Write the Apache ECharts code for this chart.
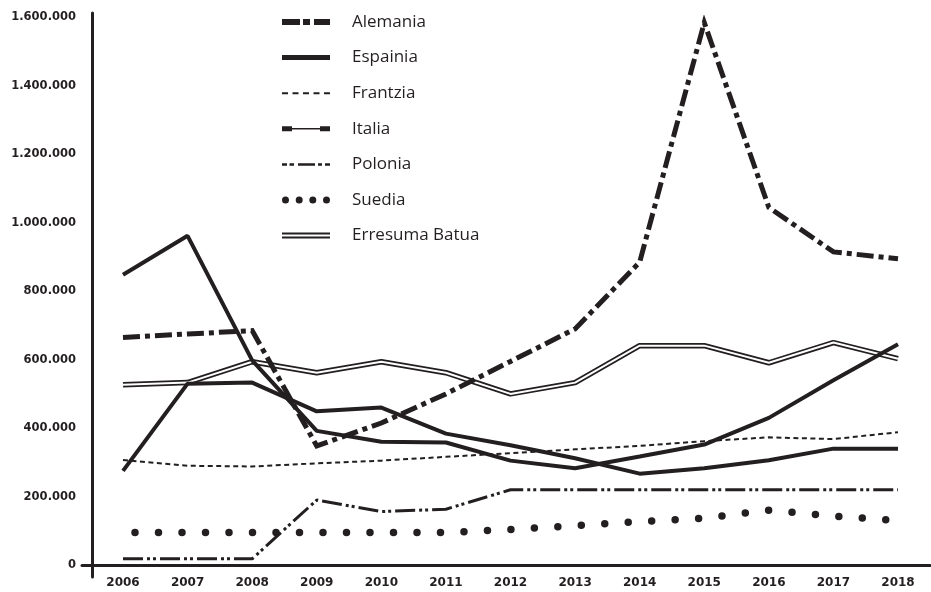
<!DOCTYPE html>
<html>
<head>
<meta charset="utf-8">
<script src="https://cdn.jsdelivr.net/npm/echarts@6/dist/echarts.min.js"></script>
<style>html,body{margin:0;padding:0;background:#fff}#c{width:931px;height:592px}</style>
</head>
<body>
<div id="c"></div>
<script>
const years = ['2006','2007','2008','2009','2010','2011','2012','2013','2014','2015','2016','2017','2018'];
const seriesNames = ['Alemania','Espainia','Frantzia','Italia','Polonia','Suedia','Erresuma Batua'];
const alemania = [665000, 675000, 685000, 348000, 415000, 500000, 595000, 690000, 885000, 1585000, 1045000, 915000, 895000];
const espainia = [848000, 962000, 598000, 392000, 360000, 358000, 305000, 283000, 317000, 352000, 430000, 540000, 645000];
const frantzia = [307000, 290000, 288000, 297000, 305000, 316000, 327000, 338000, 348000, 362000, 373000, 368000, 388000];
const italia = [275000, 530000, 533000, 449000, 460000, 384000, 350000, 312000, 267000, 283000, 306000, 340000, 340000];
const polonia = [18000, 18000, 18000, 190000, 156000, 163000, 220000, 220000, 220000, 220000, 220000, 220000, 220000];
const suedia = [95000, 95000, 95000, 95000, 95000, 95000, 104000, 115000, 127000, 137000, 160000, 143000, 130000];
const erresumaBatua = [527000, 533000, 594000, 562000, 594000, 562000, 500000, 533000, 641000, 641000, 591000, 650000, 603000];
const yMin = 0, yMax = 1600000, yStep = 200000;

const INK = '#231f20';
const fmt = v => String(v).replace(/\B(?=(\d{3})+(?!\d))/g, '.');

const circ = (cx) => `M${cx-3.5},3.5a3.5,3.5 0 1,0 7,0a3.5,3.5 0 1,0 -7,0z`;
const icons = {
  'Alemania': 'path://M0,0h18v6H0z M21,0h7v6h-7z M32,0h16v6H32z',
  'Espainia': 'path://M0,0h48v5H0z',
  'Frantzia': 'path://M0,0h6v2H0z M10.5,0h6v2h-6z M21,0h6v2h-6z M31.5,0h6v2h-6z M42,0h6v2h-6z',
  'Italia': 'path://M0,0h10v5H0z M10,1.75h28v1.5H10z M38,0h10v5H38z',
  'Polonia': 'path://M0,0h5v2.5H0z M7.5,0h4.5v2.5h-4.5z M16,0h17v2.5h-17z M36,0h4v2.5h-4z M43,0h5v2.5h-5z',
  'Suedia': 'path://' + [3.5, 17.2, 30.8, 44.5].map(circ).join(' '),
  'Erresuma Batua': 'path://M0,0h48v2H0z M0,4h48v2H0z'
};

const base = (name, data, ls, extra) => Object.assign({
  name, type: 'line', data, xAxisIndex: 0, yAxisIndex: 0,
  symbol: 'none', silent: true, color: INK,
  lineStyle: Object.assign({color: INK}, ls)
}, extra || {});

const chart = echarts.init(document.getElementById('c'), null, {renderer: 'canvas'});
chart.setOption({
  animation: false,
  backgroundColor: '#fff',
  grid: [
    {left: 123, right: 33, top: 17.5, bottom: 27},
    {left: 82, right: 1, top: 17.5, bottom: 27},
    {left: 92, width: 20, top: 13, bottom: 15}
  ],
  xAxis: [
    {gridIndex: 0, type: 'category', data: years, boundaryGap: false,
     axisLine: {show: false}, axisTick: {show: false}, splitLine: {show: false},
     axisLabel: {margin: 12, color: INK, fontFamily: 'DejaVu Sans', fontWeight: 'bold', fontSize: 12}},
    {gridIndex: 1, type: 'value', min: 0, max: 1, axisLabel: {show: false}, axisTick: {show: false}, splitLine: {show: false},
     axisLine: {show: true, onZero: false, lineStyle: {color: INK, width: 3}}},
    {gridIndex: 2, type: 'value', show: false}
  ],
  yAxis: [
    {gridIndex: 0, type: 'value', min: yMin, max: yMax, interval: yStep,
     axisLine: {show: false}, axisTick: {show: false}, splitLine: {show: false},
     axisLabel: {margin: 47, color: INK, fontFamily: 'DejaVu Sans', fontWeight: 'bold', fontSize: 11.5, formatter: fmt}},
    {gridIndex: 1, type: 'value', min: 0, max: 1, show: false},
    {gridIndex: 2, type: 'value', min: 0, max: 1, axisLabel: {show: false}, axisTick: {show: false}, splitLine: {show: false},
     axisLine: {show: true, onZero: false, lineStyle: {color: INK, width: 3}}}
  ],
  legend: {
    orient: 'vertical', left: 277, top: 8,
    itemWidth: 48, itemHeight: 8, itemGap: 17.6, symbolKeepAspect: true,
    selectedMode: false,
    itemStyle: {borderWidth: 0},
    textStyle: {fontFamily: 'Open Sans', fontSize: 17, color: INK, lineHeight: 18, padding: [0, 0, 0, 17]},
    data: seriesNames.map(n => ({name: n, icon: icons[n]}))
  },
  series: [
    base('Erresuma Batua', erresumaBatua, {width: 5.5}),
    base('Erresuma Batua (barrua)', erresumaBatua, {width: 2, color: '#ffffff'}, {color: '#ffffff'}),
    base('Suedia', suedia, {width: 7.5, type: [0, 23.5], cap: 'round', dashOffset: 11.5}),
    base('Polonia', polonia, {width: 3, type: [20, 4, 3, 3, 3, 4]}),
    base('Frantzia', frantzia, {width: 2, type: [5, 3.5]}),
    base('Italia', italia, {width: 4}),
    base('Espainia', espainia, {width: 4}),
    base('Alemania', alemania, {width: 5, type: [17, 5, 5, 5], join: 'miter'})
  ]
});
</script>
</body>
</html>
